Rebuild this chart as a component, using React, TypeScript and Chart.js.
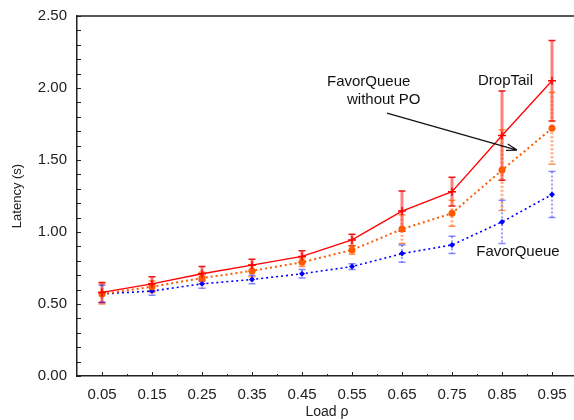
import React, { useEffect, useRef } from "react";
import { Chart, registerables } from "chart.js";

Chart.register(...registerables);

const loads = [0.05, 0.15, 0.25, 0.35, 0.45, 0.55, 0.65, 0.75, 0.85, 0.95];
const dropTail = [0.58, 0.64, 0.71, 0.77, 0.83, 0.945, 1.145, 1.28, 1.67, 2.05];
const dropTailErr = [0.07, 0.05, 0.05, 0.04, 0.04, 0.04, 0.14, 0.1, 0.31, 0.28];
const favorNoPO = [0.57, 0.62, 0.68, 0.73, 0.79, 0.875, 1.02, 1.13, 1.43, 1.72];
const favorNoPOErr = [0.07, 0.04, 0.04, 0.04, 0.03, 0.03, 0.1, 0.09, 0.28, 0.25];
const favorQueue = [0.57, 0.59, 0.64, 0.67, 0.71, 0.76, 0.85, 0.91, 1.07, 1.26];
const favorQueueErr = [0.06, 0.03, 0.03, 0.03, 0.03, 0.02, 0.06, 0.06, 0.15, 0.16];
const yTicks = [0, 0.5, 1.0, 1.5, 2.0, 2.5];

const FONT = "'Liberation Sans', Arial, sans-serif";

const errSpecs = [
  { vals: dropTail, errs: dropTailErr, color: "rgba(255,0,0,0.5)", cap: "rgba(230,0,0,0.9)", dash: [] as number[], width: 3 },
  { vals: favorNoPO, errs: favorNoPOErr, color: "rgba(255,90,0,0.5)", cap: "rgba(255,90,0,0.65)", dash: [2, 2], width: 3 },
  { vals: favorQueue, errs: favorQueueErr, color: "rgba(40,40,255,0.45)", cap: "rgba(40,40,255,0.55)", dash: [2, 2], width: 2 },
];

const errorBarPlugin = {
  id: "errorBars",
  beforeDatasetsDraw(chart: any) {
    const { ctx, scales } = chart;
    const xs = scales.x, ys = scales.y;
    ctx.save();
    errSpecs.forEach((s) => {
      loads.forEach((l, i) => {
        const x = xs.getPixelForValue(l);
        const yt = ys.getPixelForValue(s.vals[i] + s.errs[i]);
        const yb = ys.getPixelForValue(s.vals[i] - s.errs[i]);
        ctx.setLineDash(s.dash);
        ctx.strokeStyle = s.color;
        ctx.lineWidth = s.width;
        ctx.beginPath();
        ctx.moveTo(x, yt);
        ctx.lineTo(x, yb);
        ctx.stroke();
        ctx.setLineDash([]);
        ctx.strokeStyle = s.cap;
        ctx.lineWidth = 1.5;
        ctx.beginPath();
        ctx.moveTo(x - 3.5, yt);
        ctx.lineTo(x + 3.5, yt);
        ctx.moveTo(x - 3.5, yb);
        ctx.lineTo(x + 3.5, yb);
        ctx.stroke();
      });
    });
    ctx.restore();
  },
};

const frameTicksPlugin = {
  id: "frameTicks",
  afterDatasetsDraw(chart: any) {
    const { ctx, scales, chartArea } = chart;
    const xs = scales.x, ys = scales.y;
    ctx.save();
    ctx.strokeStyle = "#222";
    ctx.lineWidth = 1;
    ctx.beginPath();
    for (let k = 0; k <= 25; k++) {
      const y = Math.round(ys.getPixelForValue(k / 10)) + 0.5;
      ctx.moveTo(chartArea.left, y);
      ctx.lineTo(chartArea.left + 4, y);
    }
    for (let k = 1; k <= 10; k++) {
      const x = Math.round(xs.getPixelForValue(k / 10)) + 0.5;
      ctx.moveTo(x, chartArea.bottom);
      ctx.lineTo(x, chartArea.bottom - 2);
    }
    loads.forEach((l) => {
      const x = Math.round(xs.getPixelForValue(l)) + 0.5;
      ctx.moveTo(x, chartArea.bottom);
      ctx.lineTo(x, chartArea.bottom - 4);
    });
    ctx.stroke();
    ctx.lineWidth = 1.5;
    ctx.beginPath();
    ctx.moveTo(chartArea.left, chartArea.top);
    ctx.lineTo(chartArea.right, chartArea.top);
    ctx.stroke();

    // annotations
    ctx.fillStyle = "#111";
    ctx.font = `15px ${FONT}`;
    ctx.textBaseline = "middle";
    ctx.textAlign = "center";
    ctx.fillText("DropTail", xs.getPixelForValue(0.857), ys.getPixelForValue(2.05));
    ctx.fillText("FavorQueue", xs.getPixelForValue(0.882), ys.getPixelForValue(0.86));
    ctx.textAlign = "left";
    ctx.fillText("FavorQueue", xs.getPixelForValue(0.5), ys.getPixelForValue(2.045));
    ctx.fillText("without PO", xs.getPixelForValue(0.54), ys.getPixelForValue(1.92));

    // arrow
    const x1 = xs.getPixelForValue(0.62), y1 = ys.getPixelForValue(1.826);
    const x2 = xs.getPixelForValue(0.88), y2 = ys.getPixelForValue(1.569);
    const ang = Math.atan2(y2 - y1, x2 - x1);
    ctx.strokeStyle = "#111";
    ctx.lineWidth = 1.2;
    ctx.beginPath();
    ctx.moveTo(x1, y1);
    ctx.lineTo(x2, y2);
    ctx.moveTo(x2, y2);
    ctx.lineTo(x2 - 11 * Math.cos(ang - 0.3), y2 - 11 * Math.sin(ang - 0.3));
    ctx.moveTo(x2, y2);
    ctx.lineTo(x2 - 11 * Math.cos(ang + 0.3), y2 - 11 * Math.sin(ang + 0.3));
    ctx.stroke();
    ctx.restore();
  },
};

export default function App() {
  const ref = useRef<HTMLCanvasElement>(null);
  useEffect(() => {
    if (!ref.current) return;
    const mk = (vals: number[]) => loads.map((l, i) => ({ x: l, y: vals[i] }));
    const chart = new Chart(ref.current, {
      type: "line",
      data: {
        datasets: [
          {
            label: "DropTail",
            data: mk(dropTail),
            borderColor: "#ff0000",
            backgroundColor: "#ff0000",
            borderWidth: 1.3,
            pointStyle: "cross",
            pointRadius: 4,
            pointBorderWidth: 1.5,
          },
          {
            label: "FavorQueue without PO",
            data: mk(favorNoPO),
            borderColor: "#ff5a00",
            backgroundColor: "#ff5a00",
            borderWidth: 2,
            borderDash: [2, 3],
            pointStyle: "circle",
            pointRadius: 3.5,
            pointBorderWidth: 0,
          },
          {
            label: "FavorQueue",
            data: mk(favorQueue),
            borderColor: "#0000ff",
            backgroundColor: "#0000ff",
            borderWidth: 1.6,
            borderDash: [2, 3],
            pointStyle: "rectRot",
            pointRadius: 3,
            pointBorderWidth: 0,
          },
        ],
      },
      options: {
        animation: false,
        responsive: false,
        layout: { padding: { top: 16, right: 23, left: 0, bottom: 0 } },
        plugins: { legend: { display: false }, tooltip: { enabled: false } },
        scales: {
          x: {
            type: "linear",
            min: 0,
            max: 1,
            afterBuildTicks: (s: any) => {
              s.ticks = loads.map((v) => ({ value: v }));
            },
            afterFit: (s: any) => {
              s.height = 44;
              s.paddingLeft = 0;
              s.paddingRight = 0;
            },
            grid: { display: false, drawTicks: false },
            border: { display: true, color: "#222", width: 1.5 },
            ticks: {
              padding: 10,
              color: "#222",
              font: { family: FONT, size: 15 },
              maxRotation: 0,
              autoSkip: false,
              callback: (v: any) => Number(v).toFixed(2),
            },
            title: {
              display: true,
              text: "Load ρ",
              color: "#222",
              font: { family: FONT, size: 14 },
              padding: { top: 0, bottom: -1 },
            },
          },
          y: {
            type: "linear",
            min: 0,
            max: 2.5,
            afterBuildTicks: (s: any) => {
              s.ticks = yTicks.map((v) => ({ value: v }));
            },
            afterFit: (s: any) => {
              s.width = 77;
              s.paddingTop = 0;
              s.paddingBottom = 0;
            },
            grid: { display: false, drawTicks: false },
            border: { display: true, color: "#222", width: 1.5 },
            ticks: {
              padding: 10,
              color: "#222",
              font: { family: FONT, size: 15 },
              callback: (v: any) => Number(v).toFixed(2),
            },
            title: {
              display: true,
              text: "Latency (s)",
              color: "#222",
              font: { family: FONT, size: 13 },
              padding: { top: 10, bottom: 0 },
            },
          },
        },
      },
      plugins: [errorBarPlugin, frameTicksPlugin],
    });
    return () => chart.destroy();
  }, []);
  return (
    <div style={{ position: "absolute", left: 0, top: 0, width: 574, height: 420, overflow: "hidden", background: "#fff" }}>
      <canvas ref={ref} width={600} height={420} style={{ position: "absolute", left: 0, top: 0, width: 600, height: 420 }} />
    </div>
  );
}
